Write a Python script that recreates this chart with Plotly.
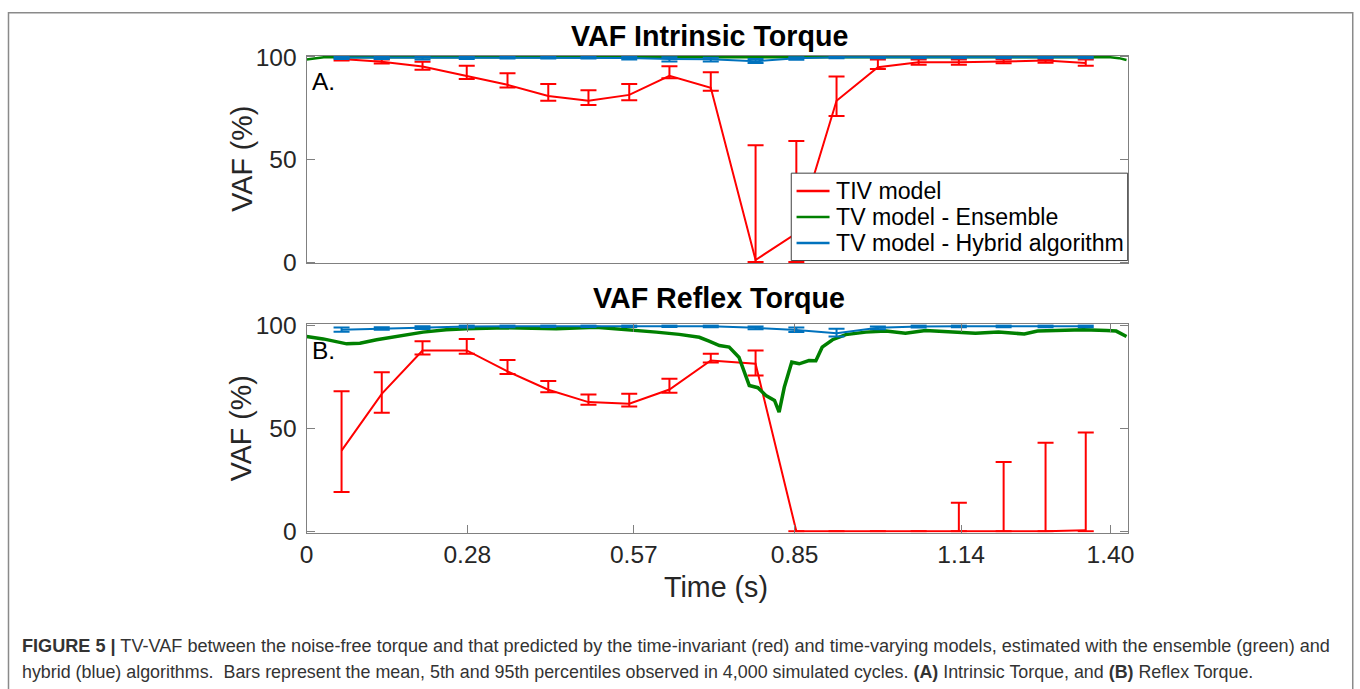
import plotly.graph_objects as go

# ---------------- data ----------------
t_pts = [0.061, 0.131, 0.202, 0.279, 0.350, 0.421, 0.491, 0.562, 0.632, 0.704,
         0.782, 0.853, 0.923, 0.995, 1.066, 1.136, 1.214, 1.287, 1.357]

# Panel A (intrinsic torque)
tiv_a_mean = [99.0, 97.7, 95.3, 90.5, 86.4, 81.0, 78.6, 81.5, 90.8, 85.0,
              1.0, 14.0, 78.6, 95.0, 97.4, 97.4, 97.7, 98.2, 97.0]
tiv_a_lo = [98.2, 96.8, 93.8, 89.2, 85.1, 78.6, 76.6, 78.9, 89.6, 83.5,
            0.0, 0.0, 71.2, 94.1, 96.2, 96.2, 96.9, 97.2, 95.7]
tiv_a_hi = [99.6, 98.7, 97.7, 95.7, 92.0, 86.8, 83.8, 86.8, 95.4, 92.5,
            57.0, 59.0, 90.5, 98.7, 98.7, 98.7, 98.9, 98.9, 98.7]

hyb_a_mean = [99.7, 99.7, 99.6, 99.7, 99.8, 99.8, 99.8, 99.5, 99.0, 98.9,
              97.9, 99.3, 99.8, 99.8, 99.8, 99.8, 99.8, 99.8, 99.8]
hyb_a_lo = [99.0, 99.0, 98.8, 99.0, 99.2, 99.2, 99.2, 98.7, 97.8, 97.8,
            97.0, 98.6, 99.3, 99.3, 99.3, 99.3, 99.3, 99.3, 99.3]
hyb_a_hi = [100.0, 100.0, 100.0, 100.0, 100.0, 100.0, 100.0, 100.0, 99.8, 99.6,
            99.0, 99.9, 100.0, 100.0, 100.0, 100.0, 100.0, 100.0, 100.0]

ens_a_t = [0.0, 0.015, 0.03, 0.06, 0.10, 0.15, 0.20, 0.30, 0.40, 0.50, 0.60,
           0.65, 0.70, 0.75, 0.80, 0.85, 0.90, 1.00, 1.10, 1.20, 1.30, 1.38,
           1.40, 1.415, 1.428]
ens_a_v = [98.7, 99.3, 99.8, 99.9, 99.9, 99.9, 99.9, 99.9, 99.9, 99.9, 99.8,
           99.7, 99.6, 99.6, 99.7, 99.8, 99.9, 99.9, 99.9, 99.9, 99.9, 99.9,
           99.8, 99.4, 98.5]

# Panel B (reflex torque)
tiv_b_mean = [39.2, 66.8, 87.9, 87.9, 77.7, 68.8, 62.8, 62.0, 68.9, 83.0,
              81.4, 0.0, 0.0, 0.0, 0.0, 0.0, 0.0, 0.0, 0.5]
tiv_b_lo = [19.1, 57.6, 85.9, 86.3, 76.5, 67.6, 61.5, 60.7, 67.3, 82.0,
            75.7, 0.0, 0.0, 0.0, 0.0, 0.0, 0.0, 0.0, 0.0]
tiv_b_hi = [68.1, 77.3, 92.4, 93.4, 83.3, 73.0, 66.5, 66.8, 74.1, 86.3,
            87.9, 0.0, 0.0, 0.0, 0.0, 13.9, 33.7, 43.0, 48.0]

hyb_b_mean = [98.0, 98.6, 99.0, 99.5, 99.6, 99.7, 99.7, 99.7, 99.7, 99.6,
              98.9, 97.8, 96.3, 98.9, 99.5, 99.6, 99.6, 99.6, 99.6]
hyb_b_lo = [97.0, 97.9, 98.3, 99.0, 99.2, 99.3, 99.3, 99.3, 99.3, 99.2,
            98.2, 96.8, 94.7, 98.2, 99.0, 99.2, 99.2, 99.2, 99.2]
hyb_b_hi = [99.0, 99.2, 99.6, 100.0, 100.0, 100.0, 100.0, 100.0, 100.0, 100.0,
            99.5, 99.0, 98.4, 99.5, 100.0, 100.0, 100.0, 100.0, 100.0]

ens_b_t = [0.0, 0.029, 0.07, 0.093, 0.122, 0.163, 0.203, 0.243, 0.278, 0.348,
           0.435, 0.504, 0.562, 0.609, 0.649, 0.684, 0.701, 0.719, 0.736, 0.753,
           0.771, 0.786, 0.800, 0.815, 0.823, 0.832, 0.845, 0.858, 0.875, 0.887,
           0.898, 0.916, 0.939, 0.974, 1.009, 1.043, 1.078, 1.124, 1.165, 1.205,
           1.25, 1.273, 1.32, 1.353, 1.393, 1.41, 1.428]
ens_b_v = [94.7, 93.5, 91.1, 91.4, 93.1, 95.1, 96.8, 97.9, 98.4, 98.9,
           98.4, 99.2, 98.1, 96.8, 95.7, 94.3, 92.4, 90.3, 89.5, 84.6,
           70.9, 69.8, 66.0, 63.6, 57.9, 70.0, 82.2, 81.4, 83.0, 82.9,
           89.5, 93.1, 95.6, 96.8, 97.3, 96.3, 97.6, 96.8, 96.3, 96.8,
           95.9, 97.3, 97.6, 97.9, 97.6, 97.3, 94.7]

tick_vals = [0, 0.28, 0.57, 0.85, 1.14, 1.40]
tick_text = ["0", "0.28", "0.57", "0.85", "1.14", "1.40"]
y_ticks = [0, 50, 100]

series_names = ["TIV model", "TV model - Ensemble", "TV model - Hybrid algorithm"]
RED, GREEN, BLUE = "#FF0000", "#008000", "#0072BD"
series_colors = [RED, GREEN, BLUE]

FONT = "Liberation Sans, Arial, Helvetica, sans-serif"
W, H = 1360, 689
# measured page placement of the figure in the photographed window
AX, BX, AY, BY = 0.991, 7.0, 0.963, 12.5
FS = 1.0 / 0.977  # font compensation


def px(X):
    return ((X - BX) / AX) / W


def py(Y):
    return 1 - ((Y - BY) / AY) / H


def err(mean, lo, hi, color):
    return dict(type="data", symmetric=False,
                array=[h - m for m, h in zip(mean, hi)],
                arrayminus=[m - l for m, l in zip(mean, lo)],
                width=8, thickness=2, color=color)


fig = go.Figure()
for xa, ya, tm, tl, th, et, ev, hm, hl, hh, gw in [
    ("x", "y", tiv_a_mean, tiv_a_lo, tiv_a_hi, ens_a_t, ens_a_v, hyb_a_mean, hyb_a_lo, hyb_a_hi, 2.5),
    ("x2", "y2", tiv_b_mean, tiv_b_lo, tiv_b_hi, ens_b_t, ens_b_v, hyb_b_mean, hyb_b_lo, hyb_b_hi, 3.5),
]:
    fig.add_trace(go.Scatter(x=t_pts, y=tm, mode="lines", line=dict(color=RED, width=2),
                             error_y=err(tm, tl, th, RED), xaxis=xa, yaxis=ya,
                             name=series_names[0], showlegend=False))
    fig.add_trace(go.Scatter(x=et, y=ev, mode="lines", line=dict(color=GREEN, width=gw),
                             xaxis=xa, yaxis=ya, name=series_names[1], showlegend=False))
    fig.add_trace(go.Scatter(x=t_pts, y=hm, mode="lines", line=dict(color=BLUE, width=2),
                             error_y=err(hm, hl, hh, BLUE), xaxis=xa, yaxis=ya,
                             name=series_names[2], showlegend=False))

xdom = [px(306.7), px(1128.3)]
axis_line = "#808080"
tickfont = dict(family=FONT, size=24 * FS, color="#262626")

common_x = dict(domain=xdom, range=[0, 1.430], showline=True, linecolor=axis_line,
                linewidth=1, showgrid=False, zeroline=False, fixedrange=True)
common_y = dict(range=[-0.6, 100.6], tickvals=y_ticks, showline=True, linecolor=axis_line,
                linewidth=1, mirror="ticks", ticks="inside", ticklen=8, tickcolor=axis_line,
                showgrid=False, zeroline=False, tickfont=tickfont, ticklabelstandoff=4)

fig.update_layout(
    width=W, height=H, margin=dict(l=0, r=0, t=0, b=0, pad=0),
    paper_bgcolor="white", plot_bgcolor="white",
    font=dict(family=FONT),
    xaxis=dict(**common_x, anchor="y", mirror=True, showticklabels=False, ticks=""),
    yaxis=dict(**common_y, domain=[py(263.2), py(56.1)], anchor="x"),
    xaxis2=dict(**common_x, anchor="y2", mirror="ticks", tickvals=tick_vals, ticktext=tick_text,
                ticks="inside", ticklen=8, tickcolor=axis_line, tickfont=tickfont),
    yaxis2=dict(**common_y, domain=[py(531.9), py(324.1)], anchor="x2"),
    showlegend=False,
)

ann = []
def A(text, x, y, size, xanchor="center", yanchor="middle", color="black", **kw):
    d = dict(text=text, x=px(x), y=py(y), xref="paper", yref="paper",
             xanchor=xanchor, yanchor=yanchor, showarrow=False,
             font=dict(family=FONT, size=size * FS, color=color))
    d.update(kw)
    ann.append(d)

A("<b>VAF Intrinsic Torque</b>", 710, 36, 28)
A("<b>VAF Reflex Torque</b>", 719.5, 298, 28)
A("A.", 310, 82, 24, xanchor="left")
A("B.", 310, 350, 24, xanchor="left")
A("VAF (%)", 242, 159, 28, textangle=-90, color="#262626")
A("VAF (%)", 242, 428, 28, textangle=-90, color="#262626")
A("Time (s)", 716, 586, 28, color="#262626")
A("<b>FIGURE 5 |</b> TV-VAF between the noise-free torque and that predicted by the time-invariant (red) and time-varying models, estimated with the ensemble (green) and",
  20, 645, 17.7, xanchor="left", color="#333333")
A("hybrid (blue) algorithms.  Bars represent the mean, 5th and 95th percentiles observed in 4,000 simulated cycles. <b>(A)</b> Intrinsic Torque, and <b>(B)</b> Reflex Torque.",
  20, 671, 17.45, xanchor="left", color="#333333")

shapes = [dict(type="rect", xref="paper", yref="paper",
               x0=px(8.5), x1=px(1353.5), y0=-0.2, y1=1 - 0.8 / H,
               line=dict(color="#8a8a8a", width=1.5), fillcolor="rgba(0,0,0,0)", layer="below"),
          dict(type="rect", xref="paper", yref="paper",
               x0=px(791.7), x1=px(1128.3), y0=py(260.5), y1=py(173.3),
               line=dict(color="#404040", width=1), fillcolor="white", layer="above")]
row_y = [191.0, 217.0, 243.0]
for name, col, ry in zip(series_names, series_colors, row_y):
    shapes.append(dict(type="line", xref="paper", yref="paper",
                       x0=px(797), x1=px(830), y0=py(ry), y1=py(ry),
                       line=dict(color=col, width=2.5), layer="above"))
    A(name, 834, ry, 22.6, xanchor="left")

fig.update_layout(annotations=ann, shapes=shapes)

fig.write_html("out.html")
